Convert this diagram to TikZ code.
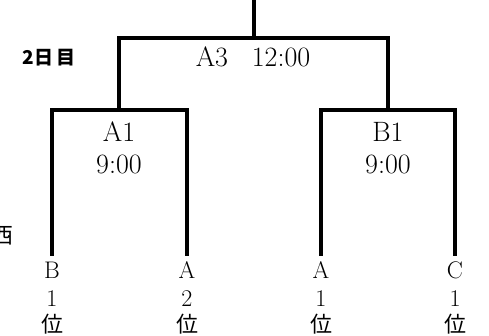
\documentclass[tikz,border=0pt]{standalone}
\usepackage{fontspec}
\newfontfamily\cjk{Noto Sans CJK JP}

\begin{document}
\begin{tikzpicture}[x=1pt,y=-1pt,
    bracket/.style={line width=3.3pt},
    match/.style={font=\fontsize{28}{32}\selectfont,align=center,inner sep=0pt,anchor=north},
    team/.style={font=\fontsize{24}{28}\selectfont,align=center,inner sep=0pt,outer ysep=6pt,anchor=north}]
    \useasboundingbox (0,0) rectangle (489,336);
    \coordinate (final) at (254,0);
    \coordinate (A3) at (254,38);
    \coordinate (A1) at (119,110);
    \coordinate (B1) at (388,110);
    \node[team] (t1) at (52,256) {B\\1\\[-2pt]{\cjk\fontsize{22}{28}\selectfont 位}};
    \node[team] (t2) at (187,256) {A\\2\\[-2pt]{\cjk\fontsize{22}{28}\selectfont 位}};
    \node[team] (t3) at (321,256) {A\\1\\[-2pt]{\cjk\fontsize{22}{28}\selectfont 位}};
    \node[team] (t4) at (455,256) {C\\1\\[-2pt]{\cjk\fontsize{22}{28}\selectfont 位}};
    \draw[bracket] (t1.north) |- (A1) -| (t2.north);
    \draw[bracket] (t3.north) |- (B1) -| (t4.north);
    \draw[bracket] (A1) |- (A3) -| (B1);
    \draw[bracket] (A3) -- (final);
    \node[match] (m3) at (253,47) {A3\hspace{0.85em}12:00};
    \node[match] (m1) at (119,122) {A1\\9:00};
    \node[match] (m2) at (388,122) {B1\\9:00};
    \node[font=\cjk\bfseries\fontsize{19}{19}\selectfont,inner sep=0pt] (day) at (49,58) {2日\hspace{0.15em}目};
    \node[font=\cjk\fontsize{22}{22}\selectfont,inner sep=0pt] (west) at (2,236) {西};
\end{tikzpicture}
\end{document}
